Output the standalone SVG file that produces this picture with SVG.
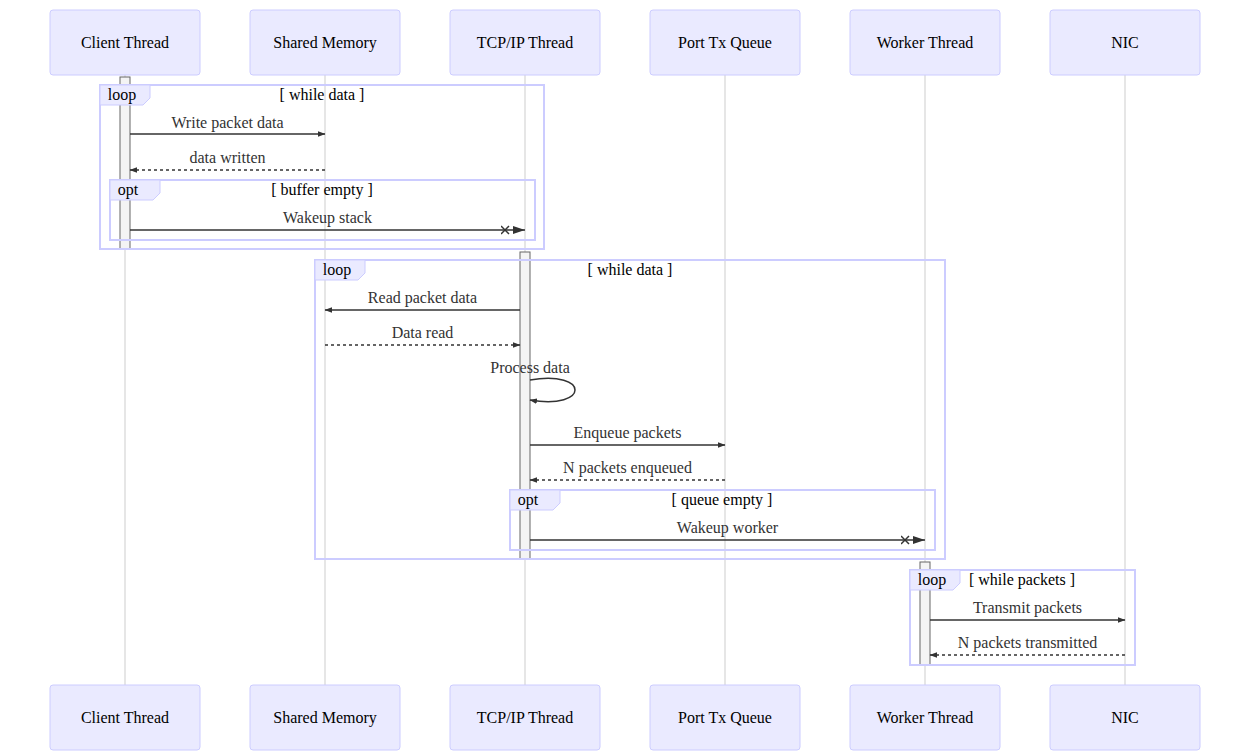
<svg xmlns="http://www.w3.org/2000/svg" width="1250" height="751" viewBox="0 0 1250 751">
<style>
text{font-family:"Liberation Serif","Times New Roman",serif;font-size:16px}
.actor rect{fill:#eaeaff;stroke:#ccccff;stroke-width:1}
.actor text{fill:#000;text-anchor:middle;dominant-baseline:central}
.life{stroke:#dedede;stroke-width:1.5}
.act{fill:#f4f4f4;stroke:#666;stroke-width:1}
.frame{fill:none;stroke:#ccccff;stroke-width:2}
.lbl{fill:#eaeaff;stroke:#ccccff;stroke-width:1}
.fc{fill:#000;text-anchor:middle}
.msg{stroke:#333;stroke-width:1.5;fill:none}
.dash{stroke-dasharray:3,3}
.mt{fill:#333;text-anchor:middle}
</style>
<defs>
<marker id="ah" markerUnits="userSpaceOnUse" markerWidth="8" markerHeight="6" refX="7" refY="3" orient="auto" viewBox="0 0 8 6">
<path d="M0,0.2 L7.5,3 L0,5.8 z" fill="#333"/>
</marker>
<marker id="cross" markerUnits="userSpaceOnUse" markerWidth="25" markerHeight="10" refX="24" refY="5" orient="auto" viewBox="0 0 25 10">
<path d="M0,1 L8,9 M8,1 L0,9" stroke="#333" stroke-width="1.5" fill="none"/>
<path d="M12,1 L24,5 L12,9 z" fill="#333"/>
</marker>
</defs>
<rect width="1250" height="751" fill="#fff"/>
<g id="lifelines">
<line class="life" x1="125" y1="75" x2="125" y2="685"/>
<line class="life" x1="325" y1="75" x2="325" y2="685"/>
<line class="life" x1="525" y1="75" x2="525" y2="685"/>
<line class="life" x1="725" y1="75" x2="725" y2="685"/>
<line class="life" x1="925" y1="75" x2="925" y2="685"/>
<line class="life" x1="1125" y1="75" x2="1125" y2="685"/>
</g>
<g id="activations">
<rect class="act" x="120" y="77" width="10" height="172"/>
<rect class="act" x="520" y="252" width="10" height="307"/>
<rect class="act" x="920" y="562" width="10" height="103"/>
</g>
<g id="frames">
<g id="loop1">
<rect class="frame" x="100" y="85" width="444" height="164"/>
<path class="lbl" d="M100,85 L150,85 L150,98 L143,105 L100,105 z"/>
<text class="fc" x="122" y="100">loop</text>
<text class="fc" x="322" y="100">[ while data ]</text>
</g>
<g id="opt1">
<rect class="frame" x="110" y="180" width="425" height="60"/>
<path class="lbl" d="M110,180 L160,180 L160,193 L153,200 L110,200 z"/>
<text class="fc" x="128" y="195">opt</text>
<text class="fc" x="322" y="195">[ buffer empty ]</text>
</g>
<g id="loop2">
<rect class="frame" x="315" y="260" width="630" height="299"/>
<path class="lbl" d="M315,260 L365,260 L365,273 L358,280 L315,280 z"/>
<text class="fc" x="337" y="275">loop</text>
<text class="fc" x="630" y="275">[ while data ]</text>
</g>
<g id="opt2">
<rect class="frame" x="510" y="490" width="425" height="60"/>
<path class="lbl" d="M510,490 L560,490 L560,503 L553,510 L510,510 z"/>
<text class="fc" x="528" y="505">opt</text>
<text class="fc" x="722" y="505">[ queue empty ]</text>
</g>
<g id="loop3">
<rect class="frame" x="910" y="570" width="225" height="95"/>
<path class="lbl" d="M910,570 L960,570 L960,583 L953,590 L910,590 z"/>
<text class="fc" x="932" y="585">loop</text>
<text class="fc" x="1022" y="585">[ while packets ]</text>
</g>
</g>
<g id="connectors">
<line class="msg" x1="130" y1="134" x2="325" y2="134" marker-end="url(#ah)"/>
<text class="mt" x="227.5" y="128">Write packet data</text>
<line class="msg dash" x1="325" y1="170" x2="130" y2="170" marker-end="url(#ah)"/>
<text class="mt" x="227.5" y="163">data written</text>
<line class="msg" x1="130" y1="230" x2="525" y2="230" marker-end="url(#cross)"/>
<text class="mt" x="327.5" y="223">Wakeup stack</text>
<line class="msg" x1="520" y1="310" x2="325" y2="310" marker-end="url(#ah)"/>
<text class="mt" x="422.5" y="303">Read packet data</text>
<line class="msg dash" x1="325" y1="345" x2="520" y2="345" marker-end="url(#ah)"/>
<text class="mt" x="422.5" y="338">Data read</text>
<path class="msg" d="M530,380 C590,370 590,410 530,400" marker-end="url(#ah)"/>
<text class="mt" x="530" y="373">Process data</text>
<line class="msg" x1="530" y1="445" x2="725" y2="445" marker-end="url(#ah)"/>
<text class="mt" x="627.5" y="438">Enqueue packets</text>
<line class="msg dash" x1="725" y1="480" x2="530" y2="480" marker-end="url(#ah)"/>
<text class="mt" x="627.5" y="473">N packets enqueued</text>
<line class="msg" x1="530" y1="540" x2="925" y2="540" marker-end="url(#cross)"/>
<text class="mt" x="727.5" y="533">Wakeup worker</text>
<line class="msg" x1="930" y1="620" x2="1125" y2="620" marker-end="url(#ah)"/>
<text class="mt" x="1027.5" y="613">Transmit packets</text>
<line class="msg dash" x1="1125" y1="655" x2="930" y2="655" marker-end="url(#ah)"/>
<text class="mt" x="1027.5" y="648">N packets transmitted</text>
</g>
<g id="actor-client-top" class="actor"><rect x="50" y="10" width="150" height="65" rx="3"/><text x="125" y="42.5">Client Thread</text></g>
<g id="actor-shared-top" class="actor"><rect x="250" y="10" width="150" height="65" rx="3"/><text x="325" y="42.5">Shared Memory</text></g>
<g id="actor-tcp-top" class="actor"><rect x="450" y="10" width="150" height="65" rx="3"/><text x="525" y="42.5">TCP/IP Thread</text></g>
<g id="actor-port-top" class="actor"><rect x="650" y="10" width="150" height="65" rx="3"/><text x="725" y="42.5">Port Tx Queue</text></g>
<g id="actor-worker-top" class="actor"><rect x="850" y="10" width="150" height="65" rx="3"/><text x="925" y="42.5">Worker Thread</text></g>
<g id="actor-nic-top" class="actor"><rect x="1050" y="10" width="150" height="65" rx="3"/><text x="1125" y="42.5">NIC</text></g>
<g id="actor-client-bottom" class="actor"><rect x="50" y="685" width="150" height="65" rx="3"/><text x="125" y="717.5">Client Thread</text></g>
<g id="actor-shared-bottom" class="actor"><rect x="250" y="685" width="150" height="65" rx="3"/><text x="325" y="717.5">Shared Memory</text></g>
<g id="actor-tcp-bottom" class="actor"><rect x="450" y="685" width="150" height="65" rx="3"/><text x="525" y="717.5">TCP/IP Thread</text></g>
<g id="actor-port-bottom" class="actor"><rect x="650" y="685" width="150" height="65" rx="3"/><text x="725" y="717.5">Port Tx Queue</text></g>
<g id="actor-worker-bottom" class="actor"><rect x="850" y="685" width="150" height="65" rx="3"/><text x="925" y="717.5">Worker Thread</text></g>
<g id="actor-nic-bottom" class="actor"><rect x="1050" y="685" width="150" height="65" rx="3"/><text x="1125" y="717.5">NIC</text></g>
</svg>
